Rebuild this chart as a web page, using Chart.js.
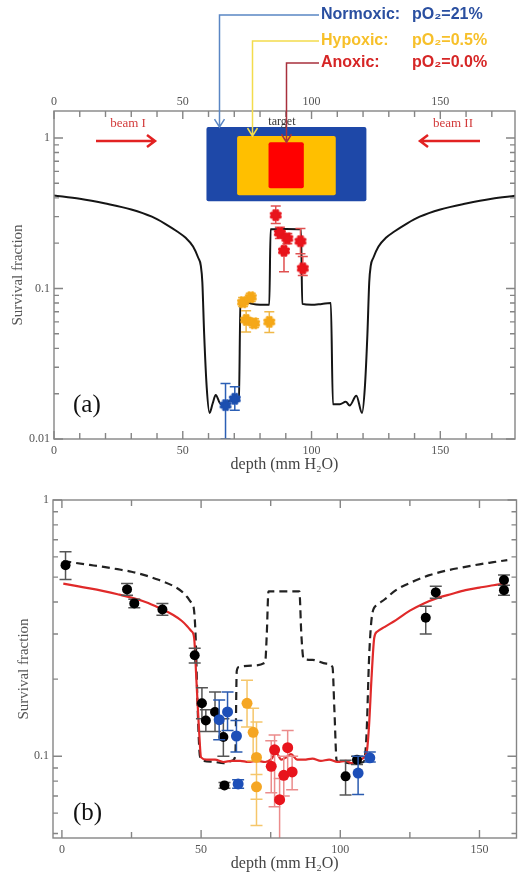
<!DOCTYPE html>
<html>
<head>
<meta charset="utf-8">
<script src="https://cdn.jsdelivr.net/npm/chart.js@4.4.0/dist/chart.umd.min.js"></script>
<style>
  html, body { margin: 0; padding: 0; background: #fff; }
  canvas { display: block; }
</style>
</head>
<body>
<canvas id="chartA" width="522" height="476"></canvas>
<canvas id="chartB" width="522" height="399"></canvas>
<script>
// ---- panel (a): two opposed beams, survival along depth ----
var depthA = [0, 10, 20, 30, 38, 43, 48, 51, 54, 56, 57, 57.6, 58.3, 59.3, 60.4, 61.6, 62.8, 64.7, 66.5, 68.5,
  70.5, 71.8, 72.4, 74, 77, 80, 83.6, 84.1, 90, 95.9, 96.4, 100, 104, 107.5, 108.3, 111, 113.3, 114.8, 117.4, 119.6,
  120.7, 121.7, 122.4, 123, 124, 126, 129, 132, 137, 142, 150, 160, 170, 179];
var survA = [0.415, 0.395, 0.367, 0.335, 0.30, 0.27, 0.238, 0.218, 0.19, 0.16, 0.142, 0.11, 0.05, 0.022, 0.0149, 0.0172, 0.0196, 0.0171, 0.0172, 0.0180,
  0.0178, 0.0180, 0.080, 0.082, 0.079, 0.078, 0.078, 0.247, 0.248, 0.247, 0.079, 0.078, 0.079, 0.080, 0.017, 0.017, 0.0177, 0.0167, 0.0194, 0.0149,
  0.022, 0.05, 0.11, 0.142, 0.16, 0.19, 0.218, 0.238, 0.27, 0.30, 0.335, 0.367, 0.395, 0.413];

var normDepthA = [66.6, 70.2];
var normSurvA = [0.0168, 0.0185];
var normLoA = [0.0100, 0.0155];
var normHiA = [0.0234, 0.0222];

var hypDepthA = [73.4, 76.4, 74.6, 77.7, 83.6];
var hypSurvA = [0.081, 0.0875, 0.0618, 0.0587, 0.060];
var hypLoA = [0.076, 0.082, 0.0514, 0.055, 0.051];
var hypHiA = [0.087, 0.093, 0.071, 0.063, 0.070];

var anoxDepthA = [86.1, 87.7, 90.6, 89.3, 95.7, 96.6];
var anoxSurvA = [0.307, 0.234, 0.215, 0.178, 0.206, 0.136];
var anoxLoA = [0.27, 0.215, 0.198, 0.129, 0.17, 0.122];
var anoxHiA = [0.353, 0.255, 0.232, 0.22, 0.25, 0.163];

var xTicksA = [0, 50, 100, 150];
var yTicksA = [0.01, 0.1, 1];

// ---- panel (b): measured survival and model curves ----
var depthFitB = [0.5, 5, 10, 15, 20, 25, 30, 35, 40, 43, 45, 46.5, 47.5, 48.3, 49.2, 50, 52, 55, 58, 61,
  64, 67, 70, 73, 75, 77, 78.8, 80.5, 82.3, 84.5, 87, 90, 93, 96, 99, 102, 104, 106, 108, 109.5,
  110.3, 111.2, 112.2, 113.2, 116, 120, 125, 130, 135, 140, 145, 150, 155, 160];
var survFitB = [0.472, 0.462, 0.452, 0.441, 0.429, 0.416, 0.400, 0.379, 0.356, 0.338, 0.322, 0.308, 0.29, 0.20, 0.13, 0.099, 0.097, 0.097, 0.095, 0.096,
  0.096, 0.095, 0.096, 0.095, 0.097, 0.103, 0.097, 0.099, 0.102, 0.097, 0.097, 0.098, 0.096, 0.097, 0.095, 0.096, 0.094, 0.096, 0.098, 0.104,
  0.13, 0.20, 0.29, 0.306, 0.32, 0.34, 0.37, 0.395, 0.415, 0.43, 0.445, 0.455, 0.465, 0.474];

var depthDashB = [0.5, 5, 10, 15, 20, 25, 30, 35, 40, 43, 45, 46.5, 47.3, 48, 48.8, 49.6, 51, 55, 58, 61,
  62.3, 62.8, 63.5, 68, 73, 73.6, 74.2, 85.3, 86, 86.8, 90, 95, 97.2, 97.9, 98.7, 100, 104, 108.4, 109.4, 110.4,
  111.5, 113.2, 116, 120, 126, 132, 138, 144, 150, 155, 160];
var survDashB = [0.578, 0.568, 0.558, 0.548, 0.537, 0.525, 0.508, 0.487, 0.462, 0.44, 0.418, 0.398, 0.383, 0.30, 0.15, 0.10, 0.096, 0.095, 0.094, 0.096,
  0.10, 0.215, 0.223, 0.226, 0.232, 0.30, 0.44, 0.44, 0.30, 0.24, 0.238, 0.23, 0.223, 0.15, 0.096, 0.095, 0.094, 0.095, 0.12, 0.25,
  0.36, 0.389, 0.41, 0.445, 0.48, 0.509, 0.53, 0.546, 0.561, 0.572, 0.583];

var blackDepthB = [1.3, 23.4, 26.0, 36.1, 47.7, 50.3, 51.7, 55.0, 58.0, 58.4, 101.9, 106.0, 130.7, 134.3, 158.8, 158.8];
var blackSurvB = [0.557, 0.448, 0.395, 0.374, 0.248, 0.161, 0.138, 0.149, 0.119, 0.077, 0.0835, 0.097, 0.347, 0.436, 0.487, 0.445];
var blackLoB = [0.490, 0.425, 0.380, 0.355, 0.231, 0.140, 0.125, 0.125, 0.100, 0.075, 0.0707, 0.093, 0.300, 0.414, 0.465, 0.425];
var blackHiB = [0.628, 0.472, 0.410, 0.395, 0.264, 0.185, 0.152, 0.178, 0.140, 0.079, 0.0965, 0.100, 0.385, 0.461, 0.510, 0.465];

var blueDepthB = [56.5, 59.5, 62.7, 63.3, 106.4, 110.6];
var blueSurvB = [0.139, 0.149, 0.12, 0.078, 0.086, 0.0986];
var blueLoB = [0.116, 0.126, 0.104, 0.075, 0.071, 0.095];
var blueHiB = [0.166, 0.178, 0.138, 0.081, 0.100, 0.104];

var yellowDepthB = [66.5, 68.7, 69.9, 69.9];
var yellowSurvB = [0.161, 0.124, 0.099, 0.076];
var yellowLoB = [0.13, 0.096, 0.068, 0.0537];
var yellowHiB = [0.198, 0.154, 0.136, 0.085];

var redDepthB = [75.2, 76.4, 78.2, 79.7, 81.1, 82.7];
var redSurvB = [0.0914, 0.106, 0.0677, 0.0843, 0.108, 0.0869];
var redLoB = [0.072, 0.0635, 0.045, 0.070, 0.085, 0.074];
var redHiB = [0.115, 0.121, 0.082, 0.100, 0.126, 0.100];

var xTicksB = [0, 50, 100, 150];
var yTicksB = [0.1, 1];

function pts(xs, ys) {
  return xs.map(function (x, i) { return { x: x, y: ys[i] }; });
}

// filled cog-like marker used in panel (a)
function cogMark(color) {
  var c = document.createElement('canvas');
  c.width = 14; c.height = 14;
  var g = c.getContext('2d');
  g.fillStyle = color;
  g.translate(7, 7);
  g.beginPath(); g.arc(0, 0, 4.2, 0, 2 * Math.PI); g.fill();
  for (var k = 0; k < 8; k++) {
    var t = k * Math.PI / 4 + Math.PI / 8;
    g.beginPath(); g.arc(4.4 * Math.cos(t), 4.4 * Math.sin(t), 1.9, 0, 2 * Math.PI); g.fill();
  }
  return c;
}

var serif = 'Liberation Serif, Times New Roman, serif';

// vertical error bars drawn just before each marker set
var errorBars = {
  id: 'errorBars',
  beforeDatasetDraw: function (chart, args) {
    var ds = chart.data.datasets[args.index];
    if (!ds.errLo) return;
    var ctx = chart.ctx, ys = chart.scales.y, a = chart.chartArea;
    var w = ds.capHalf || 5;
    ctx.save();
    ctx.beginPath();
    ctx.rect(a.left, a.top, a.right - a.left, a.bottom - a.top);
    ctx.clip();
    ctx.strokeStyle = ds.errColor;
    ctx.lineWidth = 1.5;
    ctx.beginPath();
    args.meta.data.forEach(function (pt, i) {
      var y0 = ys.getPixelForValue(ds.errLo[i]);
      var y1 = ys.getPixelForValue(ds.errHi[i]);
      ctx.moveTo(pt.x, y0); ctx.lineTo(pt.x, y1);
      ctx.moveTo(pt.x - w, y0); ctx.lineTo(pt.x + w, y0);
      ctx.moveTo(pt.x - w, y1); ctx.lineTo(pt.x + w, y1);
    });
    ctx.stroke();
    ctx.restore();
  }
};

// box around the plot with inward ticks on all four sides
function axesFrame(xStep, xMajor, tag, tagY) {
  return {
    id: 'axesFrame',
    afterDatasetsDraw: function (chart) {
      var ctx = chart.ctx, a = chart.chartArea;
      var xs = chart.scales.x, ys = chart.scales.y;
      var v, p, len;
      ctx.save();
      ctx.strokeStyle = '#858585';
      ctx.lineWidth = 1.4;
      ctx.strokeRect(a.left, a.top, a.right - a.left, a.bottom - a.top);
      ctx.beginPath();
      for (v = Math.ceil(xs.min / xStep) * xStep; v <= xs.max + 1e-9; v += xStep) {
        p = xs.getPixelForValue(v);
        len = v % xMajor === 0 ? 8 : 6;
        ctx.moveTo(p, a.bottom); ctx.lineTo(p, a.bottom - len);
        ctx.moveTo(p, a.top); ctx.lineTo(p, a.top + len);
      }
      var e0 = Math.floor(Math.log10(ys.min)), e1 = Math.ceil(Math.log10(ys.max));
      for (var e = e0; e <= e1; e++) {
        for (var m = 1; m < 10; m++) {
          v = m * Math.pow(10, e);
          if (v < ys.min * 0.999 || v > ys.max * 1.001) continue;
          p = ys.getPixelForValue(v);
          len = m === 1 ? 9 : 5;
          ctx.moveTo(a.left, p); ctx.lineTo(a.left + len, p);
          ctx.moveTo(a.right, p); ctx.lineTo(a.right - len, p);
        }
      }
      ctx.stroke();
      ctx.fillStyle = '#111';
      ctx.font = '25px ' + serif;
      ctx.textBaseline = 'middle';
      ctx.textAlign = 'left';
      ctx.fillText(tag, 73, tagY);
      ctx.restore();
    }
  };
}

// target sketch, oxygen legend and beam arrows above panel (a)
var targetSketch = {
  id: 'targetSketch',
  beforeDatasetsDraw: function (chart) {
    var ctx = chart.ctx, xs = chart.scales.x, ys = chart.scales.y;
    function box(x0, x1, y0, y1, color) {
      var l = xs.getPixelForValue(x0), r = xs.getPixelForValue(x1);
      var t = ys.getPixelForValue(y0), b = ys.getPixelForValue(y1);
      ctx.fillStyle = color;
      ctx.beginPath();
      ctx.roundRect(l, t, r - l, b - t, 2);
      ctx.fill();
    }
    ctx.save();
    box(59.2, 121.3, 1.18, 0.38, '#1e48a8');
    box(71.1, 109.4, 1.03, 0.416, '#ffbf00');
    box(83.3, 97.0, 0.936, 0.463, '#ff0000');

    ctx.font = '12px ' + serif;
    ctx.fillStyle = '#333';
    ctx.textAlign = 'center';
    ctx.textBaseline = 'middle';
    ctx.fillText('target', xs.getPixelForValue(88.5), 122);

    ctx.font = '13px ' + serif;
    ctx.fillStyle = '#d23a3a';
    ctx.fillText('beam I', 128, 124);
    ctx.fillText('beam II', 453, 124);

    ctx.strokeStyle = '#e22222';
    ctx.lineWidth = 2.5;
    ctx.beginPath();
    ctx.moveTo(96, 141); ctx.lineTo(155, 141);
    ctx.moveTo(147, 135); ctx.lineTo(155, 141); ctx.lineTo(147, 147);
    ctx.moveTo(480, 141); ctx.lineTo(420, 141);
    ctx.moveTo(428, 135); ctx.lineTo(420, 141); ctx.lineTo(428, 147);
    ctx.stroke();
    ctx.restore();
  },
  afterDraw: function (chart) {
    var ctx = chart.ctx, xs = chart.scales.x, ys = chart.scales.y;
    var rows = [
      { name: 'Normoxic:', val: 'pO\u2082=21%', color: '#2a4fa0', line: '#5a86c4', y: 15, x: 64, end: 1.18 },
      { name: 'Hypoxic:', val: 'pO\u2082=0.5%', color: '#f7c02a', line: '#f3dc4c', y: 41, x: 77, end: 1.03 },
      { name: 'Anoxic:', val: 'pO\u2082=0.0%', color: '#d62626', line: '#a8303c', y: 63, x: 90.2, end: 0.936 }
    ];
    ctx.save();
    rows.forEach(function (r) {
      var px = Math.round(xs.getPixelForValue(r.x)) + 0.5;
      var py = ys.getPixelForValue(r.end);
      ctx.strokeStyle = r.line;
      ctx.lineWidth = 1.5;
      ctx.beginPath();
      ctx.moveTo(319, r.y); ctx.lineTo(px, r.y); ctx.lineTo(px, py);
      ctx.moveTo(px - 5, py - 8); ctx.lineTo(px, py); ctx.lineTo(px + 5, py - 8);
      ctx.stroke();
      ctx.font = 'bold 16px Liberation Sans, Arial, sans-serif';
      ctx.fillStyle = r.color;
      ctx.textAlign = 'left';
      ctx.textBaseline = 'middle';
      ctx.fillText(r.name, 321, r.y);
      ctx.fillText(r.val, 412, r.y);
    });
    ctx.restore();
  }
};

var tickFont = { family: serif, size: 12 };
var titleFont = { family: serif, size: 16 };

function xAxis(min, max, labels, height, pos) {
  var ax = {
    type: 'linear',
    position: pos,
    min: min,
    max: max,
    afterBuildTicks: function (s) { s.ticks = labels.map(function (v) { return { value: v }; }); },
    afterFit: function (s) { s.height = height; },
    grid: { display: false, drawTicks: false },
    border: { display: false },
    ticks: { font: tickFont, color: '#555', padding: pos === 'top' ? 2 : 5, maxRotation: 0, autoSkip: false },
  };
  if (pos === 'bottom') {
    ax.title = { display: true, text: 'depth (mm H\u2082O)', font: titleFont, color: '#444', padding: { top: 0, bottom: 2 } };
  }
  return ax;
}

function yAxis(min, max, labels, width, titlePad) {
  return {
    type: 'logarithmic',
    min: min,
    max: max,
    afterBuildTicks: function (s) { s.ticks = labels.map(function (v) { return { value: v }; }); },
    afterFit: function (s) { s.width = width; },
    grid: { display: false, drawTicks: false },
    border: { display: false },
    ticks: {
      font: tickFont, color: '#555', padding: 4, autoSkip: false,
      callback: function (v) { return String(v); }
    },
    title: { display: true, text: 'Survival fraction', font: { family: serif, size: 15 }, color: '#555', padding: { top: titlePad, bottom: 0 } }
  };
}

var common = {
  responsive: false,
  animation: false,
  events: [],
  plugins: { legend: { display: false }, tooltip: { enabled: false } }
};

new Chart(document.getElementById('chartA'), {
  type: 'scatter',
  data: {
    datasets: [
      { data: pts(depthA, survA), showLine: true, borderColor: '#151515', borderWidth: 2, pointRadius: 0,
        cubicInterpolationMode: 'monotone', order: 5 },
      { data: pts(normDepthA, normSurvA), pointStyle: cogMark('#1c4fb0'), pointRadius: 6,
        errLo: normLoA, errHi: normHiA, errColor: '#2b5fb5', capHalf: 5, order: 1 },
      { data: pts(hypDepthA, hypSurvA), pointStyle: cogMark('#f5a818'), pointRadius: 6,
        errLo: hypLoA, errHi: hypHiA, errColor: '#f0b848', capHalf: 5, order: 2 },
      { data: pts(anoxDepthA, anoxSurvA), pointStyle: cogMark('#e8141c'), pointRadius: 6,
        errLo: anoxLoA, errHi: anoxHiA, errColor: '#e05050', capHalf: 5, order: 3 }
    ]
  },
  options: Object.assign({}, common, {
    layout: { padding: { top: 0, right: 1, left: 0, bottom: 0 } },
    scales: {
      x: xAxis(0, 179, xTicksA, 37, 'bottom'),
      x2: xAxis(0, 179, xTicksA, 111, 'top'),
      y: yAxis(0.01, 1.51, yTicksA, 54, 9)
    }
  }),
  plugins: [targetSketch, errorBars, axesFrame(10, 50, '(a)', 405)]
});

new Chart(document.getElementById('chartB'), {
  type: 'scatter',
  data: {
    datasets: [
      { data: pts(depthDashB, survDashB), showLine: true, borderColor: '#222', borderWidth: 2.2, borderDash: [8, 5],
        pointRadius: 0, cubicInterpolationMode: 'monotone', order: 7 },
      { data: pts(depthFitB, survFitB), showLine: true, borderColor: '#e02a2a', borderWidth: 2.2,
        pointRadius: 0, cubicInterpolationMode: 'monotone', order: 6 },
      { data: pts(blackDepthB, blackSurvB), pointRadius: 5, backgroundColor: '#000', borderWidth: 0,
        errLo: blackLoB, errHi: blackHiB, errColor: '#555', capHalf: 6, order: 4 },
      { data: pts(blueDepthB, blueSurvB), pointRadius: 5.5, backgroundColor: '#1d4fb8', borderWidth: 0,
        errLo: blueLoB, errHi: blueHiB, errColor: '#2b5bb0', capHalf: 6, order: 3 },
      { data: pts(yellowDepthB, yellowSurvB), pointRadius: 5.5, backgroundColor: '#f5a623', borderWidth: 0,
        errLo: yellowLoB, errHi: yellowHiB, errColor: '#f5c66a', capHalf: 6, order: 2 },
      { data: pts(redDepthB, redSurvB), pointRadius: 5.5, backgroundColor: '#e8141c', borderWidth: 0,
        errLo: redLoB, errHi: redHiB, errColor: '#eb8c8c', capHalf: 6, order: 1 }
    ]
  },
  options: Object.assign({}, common, {
    layout: { padding: { top: 24, right: 1, left: 0, bottom: 0 } },
    scales: {
      x: xAxis(-3.2, 163.3, xTicksB, 37, 'bottom'),
      y: yAxis(0.048, 1, yTicksB, 53, 15)
    }
  }),
  plugins: [errorBars, axesFrame(25, 50, '(b)', 337)]
});
</script>
</body>
</html>
